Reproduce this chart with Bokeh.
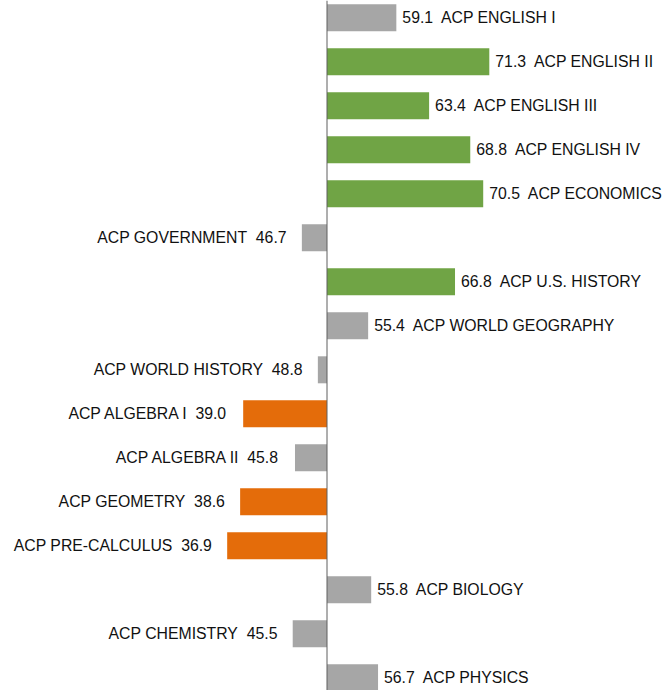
from bokeh.plotting import figure
from bokeh.models import ColumnDataSource, Range1d, Span
from bokeh.embed import file_html
from bokeh.resources import INLINE
from bokeh.core.properties import value

courses = [
    "ACP ENGLISH I", "ACP ENGLISH II", "ACP ENGLISH III", "ACP ENGLISH IV",
    "ACP ECONOMICS", "ACP GOVERNMENT", "ACP U.S. HISTORY", "ACP WORLD GEOGRAPHY",
    "ACP WORLD HISTORY", "ACP ALGEBRA I", "ACP ALGEBRA II", "ACP GEOMETRY",
    "ACP PRE-CALCULUS", "ACP BIOLOGY", "ACP CHEMISTRY", "ACP PHYSICS",
]
scores = [59.1, 71.3, 63.4, 68.8, 70.5, 46.7, 66.8, 55.4,
          48.8, 39.0, 45.8, 38.6, 36.9, 55.8, 45.5, 56.7]
baseline = 50.0

GREEN = "#70A445"
ORANGE = "#E46C0A"
GRAY = "#A6A6A6"

def color_for(v):
    if v >= 60:
        return GREEN
    if v < 40:
        return ORANGE
    return GRAY

idx = list(range(len(courses)))
colors = [color_for(v) for v in scores]

right_mask = [v >= baseline for v in scores]
src = ColumnDataSource(dict(y=idx, v=scores, c=colors))

src_r = ColumnDataSource(dict(
    y=[i for i, m in zip(idx, right_mask) if m],
    x=[v for v, m in zip(scores, right_mask) if m],
    t=[f"{v:.1f}\u00a0 {n}" for v, n, m in zip(scores, courses, right_mask) if m],
))
src_l = ColumnDataSource(dict(
    y=[i for i, m in zip(idx, right_mask) if not m],
    x=[v for v, m in zip(scores, right_mask) if not m],
    t=[f"{n}\u00a0 {v:.1f}" for v, n, m in zip(scores, courses, right_mask) if not m],
))

W, H = 664, 690
px_per_unit = 7.62
x0_px = 326.5
row_px = 44.0
first_row_px = 17.3

p = figure(
    width=W, height=H, output_backend="svg", toolbar_location=None,
    x_range=Range1d(baseline - x0_px / px_per_unit, baseline + (W - x0_px) / px_per_unit),
    y_range=Range1d((H - first_row_px) / row_px, -first_row_px / row_px),
    min_border=0, min_border_left=0, min_border_right=0,
    min_border_top=0, min_border_bottom=0,
)
p.axis.visible = False
p.grid.visible = False
p.outline_line_color = None
p.background_fill_color = "white"
p.border_fill_color = "white"

p.hbar(y="y", left=baseline, right="v", height=27 / row_px, source=src,
       fill_color="c", line_color=None)

p.add_layout(Span(location=baseline, dimension="height", line_color="#5f5f5f", line_width=1))

font = value("Liberation Sans")
p.text(x="x", y="y", text="t", source=src_r, x_offset=6, y_offset=0,
       text_align="left", text_baseline="middle", text_font=font,
       text_font_size="15.8px", text_color="#111111")
p.text(x="x", y="y", text="t", source=src_l, x_offset=-15, y_offset=0,
       text_align="right", text_baseline="middle", text_font=font,
       text_font_size="15.8px", text_color="#111111")

open("out.html", "w").write(file_html(p, INLINE))
